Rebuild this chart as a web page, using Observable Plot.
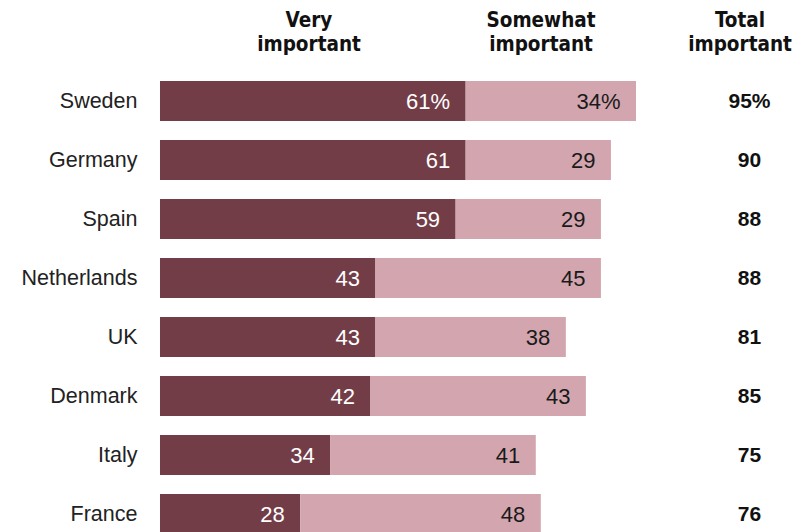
<!DOCTYPE html>
<html>
<head>
<meta charset="utf-8">
<script src="https://cdn.jsdelivr.net/npm/d3@7"></script>
<script src="https://cdn.jsdelivr.net/npm/@observablehq/plot@0.6"></script>
<style>
  body { margin: 0; background: #fff; }
  #wrap { position: relative; width: 804px; height: 532px; overflow: hidden; font-family: "Liberation Sans", Arial, sans-serif; }
  .hdr { position: absolute; top: 8px; width: 200px; margin-left: -100px; font-family: "DejaVu Sans Condensed", "DejaVu Sans", sans-serif; font-weight: bold; font-size: 20.5px; line-height: 24px; text-align: center; color: #111; white-space: nowrap; }
</style>
</head>
<body>
<div id="wrap">
  <div class="hdr" style="left:309px">Very<br>important</div>
  <div class="hdr" style="left:541px">Somewhat<br>important</div>
  <div class="hdr" style="left:740px">Total<br>important</div>
</div>
<script>
const countries = ["Sweden", "Germany", "Spain", "Netherlands", "UK", "Denmark", "Italy", "France"];
const veryImportant = [61, 61, 59, 43, 43, 42, 34, 28];
const somewhatImportant = [34, 29, 29, 45, 38, 43, 41, 48];
const totalImportant = [95, 90, 88, 88, 81, 85, 75, 76];

const rows = countries.map((c, i) => ({
  country: c,
  very: veryImportant[i],
  somewhat: somewhatImportant[i],
  total: totalImportant[i],
  first: i === 0
}));
const segs = rows.flatMap(r => [
  {country: r.country, cat: "Very important", x1: 0, x2: r.very, v: r.very, first: r.first},
  {country: r.country, cat: "Somewhat important", x1: r.very, x2: r.very + r.somewhat, v: r.somewhat, first: r.first}
]);
const fmt = (v, first) => first ? v + "%" : String(v);

const chart = Plot.plot({
  width: 804,
  height: 532,
  marginLeft: 160,
  marginRight: 168,
  marginTop: 0,
  marginBottom: 0,
  style: {fontFamily: '"Liberation Sans", Arial, sans-serif', background: "transparent"},
  x: {domain: [0, 95], axis: null},
  y: {domain: countries, range: [69, 546], paddingInner: 0.33, paddingOuter: 0.165, label: null},
  color: {domain: ["Very important", "Somewhat important"], range: ["#733d48", "#d3a6af"]},
  marks: [
    Plot.barX(segs, {y: "country", x1: "x1", x2: "x2", fill: "cat"}),
    Plot.text(segs, {
      y: "country", x: "x2", text: d => fmt(d.v, d.first),
      textAnchor: "end", dx: -16, fontSize: 22,
      fill: d => d.cat === "Very important" ? "#ffffff" : "#1a1a1a"
    }),
    Plot.text(rows, {
      y: "country", frameAnchor: "right", dx: 113, text: d => fmt(d.total, d.first),
      textAnchor: "middle", fontSize: 21, fontWeight: "bold", fill: "#111"
    }),
    Plot.axisY({tickSize: 0, tickPadding: 23, fontSize: 21.5, label: null, color: "#222"})
  ]
});
chart.style.position = "absolute";
chart.style.left = "0";
chart.style.top = "0";
document.getElementById("wrap").prepend(chart);
</script>
</body>
</html>
